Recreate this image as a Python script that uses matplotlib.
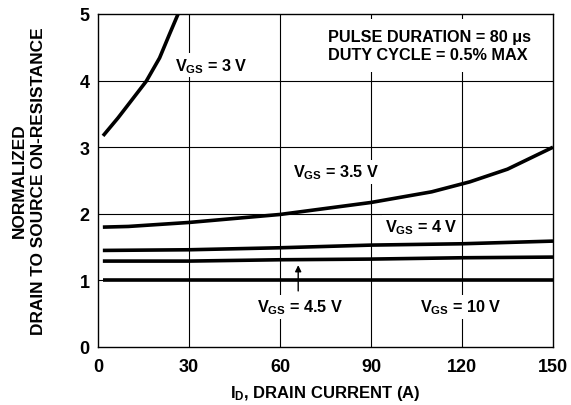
import matplotlib
matplotlib.use('Agg')
import matplotlib.pyplot as plt

plt.rcParams['font.family'] = ['Liberation Sans', 'DejaVu Sans']
plt.rcParams['font.weight'] = 'bold'
plt.rcParams['mathtext.fontset'] = 'custom'
plt.rcParams['mathtext.rm'] = 'Liberation Sans:bold'
plt.rcParams['mathtext.bf'] = 'Liberation Sans:bold'
plt.rcParams['mathtext.default'] = 'bf'

# drain current (A) and normalized on-resistance per gate voltage
id_3v = [1.65, 6.6, 11.0, 15.9, 20.3, 23.6, 26.4]
r_3v = [3.17, 3.44, 3.70, 3.99, 4.34, 4.70, 5.0]

id_35v = [1.6, 10, 30, 60, 90, 110, 122.6, 135, 150]
r_35v = [1.8, 1.81, 1.87, 1.99, 2.17, 2.33, 2.48, 2.67, 3.0]

id_4v = [1.6, 30, 60, 90, 120, 150]
r_4v = [1.45, 1.46, 1.49, 1.53, 1.55, 1.59]

id_45v = [1.6, 30, 60, 90, 120, 150]
r_45v = [1.29, 1.29, 1.31, 1.32, 1.34, 1.35]

id_10v = [1.6, 150]
r_10v = [1.0, 1.0]

x_ticks = [0, 30, 60, 90, 120, 150]
y_ticks = [0, 1, 2, 3, 4, 5]

fig = plt.figure(figsize=(5.71, 4.06), dpi=100)
ax = fig.add_axes([98/571, 1-348/406, 455/571, 333/406])

for x in x_ticks[1:-1]:
    ax.axvline(x, color='black', lw=0.8, zorder=1)
for y in y_ticks[1:-1]:
    ax.axhline(y, color='black', lw=0.8, zorder=1)

for xs, ys in [(id_3v, r_3v), (id_35v, r_35v), (id_4v, r_4v),
               (id_45v, r_45v), (id_10v, r_10v)]:
    ax.plot(xs, ys, color='black', lw=2.6, solid_capstyle='butt',
            solid_joinstyle='round', zorder=4)

ax.set_xlim(0, 150)
ax.set_ylim(0, 5)
ax.set_xticks(x_ticks)
ax.set_yticks(y_ticks)
ax.tick_params(length=0, labelsize=13)
ax.tick_params(axis='x', pad=8)
ax.tick_params(axis='y', pad=6)
for s in ax.spines.values():
    s.set_linewidth(1.0)

box = dict(facecolor='white', edgecolor='none', pad=2)
fs = 11.7
ax.text(25.3, 4.23, r'V$_{GS}$ = 3 V', fontsize=fs, ha='left', va='center', bbox=box, zorder=3)
ax.text(64.2, 2.63, r'V$_{GS}$ = 3.5 V', fontsize=fs, ha='left', va='center', bbox=box, zorder=3)
ax.text(94.6, 1.8, r'V$_{GS}$ = 4 V', fontsize=fs, ha='left', va='center', bbox=box, zorder=3)
ax.text(52.3, 0.6, r'V$_{GS}$ = 4.5 V', fontsize=fs, ha='left', va='center', bbox=box, zorder=3)
ax.text(106.2, 0.6, r'V$_{GS}$ = 10 V', fontsize=fs, ha='left', va='center', bbox=box, zorder=3)
ax.annotate('', xy=(66, 1.27), xytext=(66, 0.8),
            arrowprops=dict(arrowstyle='-|>', color='black', lw=1.0, mutation_scale=9), zorder=5)

ax.text(75.8, 4.53, 'PULSE DURATION = 80 \u03bcs\nDUTY CYCLE = 0.5% MAX', fontsize=fs,
        ha='left', va='center', linespacing=1.3,
        bbox=dict(facecolor='white', edgecolor='none', pad=7), zorder=3)

fig.text(325/571, 1-394/406, r'I$_{D}$, DRAIN CURRENT (A)', fontsize=12,
         ha='center', va='center')
fig.text(29/571, 1-181/406, 'NORMALIZED\nDRAIN TO SOURCE ON-RESISTANCE', fontsize=12.4,
         ha='center', va='center', rotation=90, multialignment='center', linespacing=1.3)

fig.savefig('out.png', dpi=100)
